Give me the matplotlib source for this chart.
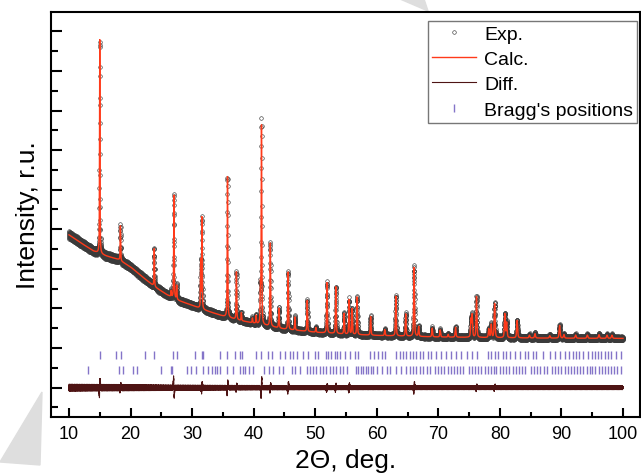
import numpy as np
import matplotlib.pyplot as plt
from matplotlib.ticker import MultipleLocator, NullFormatter
from matplotlib.patches import Polygon

plt.rcParams['font.family'] = ['Liberation Sans', 'DejaVu Sans']

# background (2theta, counts)
bg_x = [10, 12, 14, 16, 18, 20, 22, 24, 26, 28, 30, 32, 35, 38, 41, 45, 50, 55, 60, 70, 80, 90, 100]
bg_y = [3860, 3650, 3450, 3330, 3240, 3050, 2790, 2540, 2340, 2190, 2080, 1960, 1810, 1690, 1600,
        1480, 1400, 1350, 1320, 1280, 1260, 1250, 1245]

# reflections: position, height above background, fwhm
peak_pos = [15.0, 18.35, 23.85, 26.6, 27.05, 27.5, 31.4, 31.6, 35.75, 37.2, 38.0, 39.8, 40.4,
            41.1, 41.27, 42.7, 44.1, 45.6, 46.7, 48.7, 50.1, 51.9, 53.35, 54.7, 55.5, 56.0,
            56.8, 59.0, 61.3, 63.1, 64.7, 66.06, 66.8, 69.0, 70.3, 71.6, 72.8, 75.3, 75.5,
            76.2, 78.2, 78.6, 79.15, 80.8, 81.1, 82.8, 84.8, 85.7, 88.1, 89.7, 90.4, 92.3,
            94.2, 96.1, 97.4, 98.2]
peak_int = [5400, 880, 950, 150, 2600, 350, 1200, 2300, 3550, 1200, 200, 120, 200,
            900, 5000, 2100, 500, 1450, 330, 780, 120, 1270, 1180, 520, 870, 650,
            950, 470, 150, 1000, 560, 1740, 250, 220, 180, 70, 250, 450, 560,
            1030, 220, 330, 860, 600, 380, 440, 70, 110, 60, 320, 90, 80,
            80, 90, 80, 80]
peak_fwhm = [0.09, 0.1, 0.1, 0.1, 0.1, 0.1, 0.1, 0.1, 0.11, 0.11, 0.11, 0.11, 0.11,
             0.11, 0.11, 0.12, 0.12, 0.12, 0.12, 0.12, 0.13, 0.13, 0.13, 0.13, 0.13, 0.13,
             0.13, 0.14, 0.14, 0.14, 0.14, 0.15, 0.15, 0.15, 0.15, 0.15, 0.16, 0.16, 0.16,
             0.16, 0.17, 0.17, 0.17, 0.17, 0.17, 0.18, 0.18, 0.18, 0.19, 0.19, 0.19, 0.2,
             0.2, 0.2, 0.2, 0.2]

# misfit spikes seen in the difference curve
misfit_pos = [15.0, 18.35, 27.05, 31.6, 35.75, 37.2, 41.25, 42.7, 45.6, 51.9, 53.35, 55.5, 66.06, 76.2, 79.15]
misfit_amp = [190, 60, -230, 110, 150, 70, 240, 90, 120, 70, 70, 90, 120, 60, 50]

# residual wiggle, repeated along the scan
wiggle = [0.3, -0.8, 0.5, 0.9, -0.2, -0.6, 0.1, 0.7, -0.9, 0.4, -0.3, 0.6, -0.5, 0.2, 0.8,
          -0.7, -0.1, 0.5, -0.4, 0.9, -0.6, 0.3, 0.0, -0.8, 0.6, -0.2, 0.4, -0.9, 0.7, 0.1,
          -0.5, 0.8, -0.3, 0.2, -0.7, 0.5, -0.1, 0.6, -0.4, 0.3]

# Bragg reflection markers, two phases
bragg1 = [15.1, 17.7, 18.4, 22.4, 23.85, 26.9, 27.5, 30.45, 31.6, 31.75, 34.5, 35.6, 36.95, 37.8,
          38.05, 40.35, 41.27, 42.36, 42.9, 44.25, 45.06, 45.87, 46.41, 46.96, 48.04, 48.85,
          49.93, 50.47, 51.72, 52.1, 52.64, 53.18, 53.56, 53.99, 54.8, 55.61, 56.43, 56.97,
          58.86, 59.51, 60.21, 60.92, 61.3, 63.19, 63.73, 64.27, 64.81, 65.35, 65.9, 66.44,
          66.98, 67.52, 68.33, 68.87, 69.68, 70.5, 71.3, 72.1, 72.9, 73.7, 74.6, 75.4, 76.2,
          78.1, 78.6, 79.2, 79.7, 80.5, 81.0, 81.6, 82.4, 83.2, 84.0, 84.6, 85.4, 85.9, 87.0,
          88.1, 88.9, 89.7, 90.5, 91.3, 91.9, 92.4, 92.9, 93.5, 94.3, 94.9, 95.4, 95.9, 96.5,
          97.0, 97.6, 98.1, 98.9, 99.7]
bragg2 = [13.1, 18.2, 18.8, 20.4, 21.0, 25.0, 26.5, 26.8, 29.1, 29.9, 30.7, 31.8, 32.6, 33.3,
          33.7, 34.1, 34.5, 35.7, 36.6, 37.8, 38.2, 38.6, 39.3, 39.9, 41.7, 42.5, 43.2, 44.1,
          44.8, 46.2, 46.7, 47.5, 48.6, 49.1, 49.6, 50.2, 50.7, 51.3, 51.8, 52.4, 52.9, 53.45,
          54.0, 54.5, 55.1, 56.6, 57.0, 57.4, 57.8, 58.2, 58.6, 59.0, 59.4, 60.0, 60.8, 61.6,
          62.1, 63.2, 64.0, 64.8, 65.4, 65.9, 66.4, 67.0, 67.5, 68.1, 68.6, 69.4, 70.0, 70.5,
          71.0, 71.6, 72.1, 72.6, 73.0, 73.5, 74.0, 75.0, 75.5, 76.0, 76.4, 77.0, 77.5, 78.0,
          78.5, 79.0, 79.4, 80.0, 80.5, 81.0, 81.5, 82.1, 82.6, 83.1, 83.6, 84.0, 85.1, 85.6,
          86.0, 86.5, 87.1, 87.6, 88.4, 89.0, 89.5, 90.0, 90.5, 91.0, 91.6, 92.1, 92.6, 93.0,
          93.5, 94.1, 94.6, 95.0, 95.5, 96.1, 96.6, 97.0, 97.5, 98.1, 98.6, 99.1, 99.7]

# scan grid
tt = np.arange(10, 100.0001, 0.01)

# calculated profile: background + pseudo-Voigt peaks
bg = np.interp(tt, bg_x, bg_y)
calc = bg.copy()
for p, h, f in zip(peak_pos, peak_int, peak_fwhm):
    d2 = (tt - p) ** 2 / f ** 2
    calc += h * (0.5 / (1 + 4 * d2) + 0.5 * np.exp(-4 * np.log(2) * d2))

# difference curve
diff = np.resize(np.array(wiggle), tt.size) * 100 * np.sqrt(bg / bg[0])
for p, a in zip(misfit_pos, misfit_amp):
    u = (tt - p) / 0.08
    diff += a * 2.33 * u * np.exp(-u ** 2)

exp = calc + diff

fig = plt.figure(figsize=(6.41, 4.77), dpi=100)
ax = fig.add_axes([50.7 / 641, 1 - 418 / 477, (640 - 50.7) / 641, (418 - 12.7) / 477])

ax.plot(tt, exp, 'o', ms=2.6, mfc='none', mec='#3a3a3a', mew=0.45, label='Exp.')
ax.plot(tt, calc, color='#ff3a1a', lw=1.0, label='Calc.')
ax.plot(tt, diff, color='#4e1414', lw=0.8, label='Diff.')
ax.plot(bragg1, [826] * len(bragg1), '|', ms=6, mew=1, color='#8474c8', label="Bragg's positions")
ax.plot(bragg2, [447] * len(bragg2), '|', ms=6, mew=1, color='#8474c8')

ax.set_xlim(7.03, 102.76)
ax.set_ylim(-740, 9495)

ax.xaxis.set_major_locator(MultipleLocator(10))
ax.xaxis.set_minor_locator(MultipleLocator(5))
ax.yaxis.set_major_locator(MultipleLocator(1000))
ax.yaxis.set_minor_locator(MultipleLocator(500))
ax.yaxis.set_major_formatter(NullFormatter())

ax.tick_params(axis='x', which='major', direction='in', length=6.7, width=1.5, labelsize=13, pad=6)
ax.tick_params(axis='x', which='minor', direction='in', length=3.6, width=1.5)
ax.tick_params(axis='y', which='major', direction='in', length=8, width=1.5)
ax.tick_params(axis='y', which='minor', direction='in', length=4.8, width=1.5)
for s in ax.spines.values():
    s.set_linewidth(1.5)

ax.set_xlabel('2\u0398, deg.', fontsize=19, labelpad=4)
ax.set_ylabel('Intensity, r.u.', fontsize=19, labelpad=4.5)

leg = ax.legend(loc='upper right', bbox_to_anchor=((637 - 50.7) / (640 - 50.7), (418 - 22) / (418 - 12.7)),
                borderaxespad=0, fontsize=14, fancybox=False, framealpha=1, edgecolor='#777777',
                handlelength=2.3, handletextpad=0.4, labelspacing=0.4, borderpad=0.2)
leg.get_frame().set_linewidth(1.0)

# faint page decoration behind the figure
fig.patches.append(Polygon([(42 / 641, 1 - 393 / 477), (40 / 641, 1 - 466 / 477), (0, 1 - 463 / 477)],
                           closed=True, transform=fig.transFigure, color='#dedede', zorder=-1))
fig.patches.append(Polygon([(400 / 641, 1), (424 / 641, 1), (428 / 641, 1 - 12 / 477)],
                           closed=True, transform=fig.transFigure, color='#dedede', zorder=-1))

fig.savefig('out.png', dpi=100)
